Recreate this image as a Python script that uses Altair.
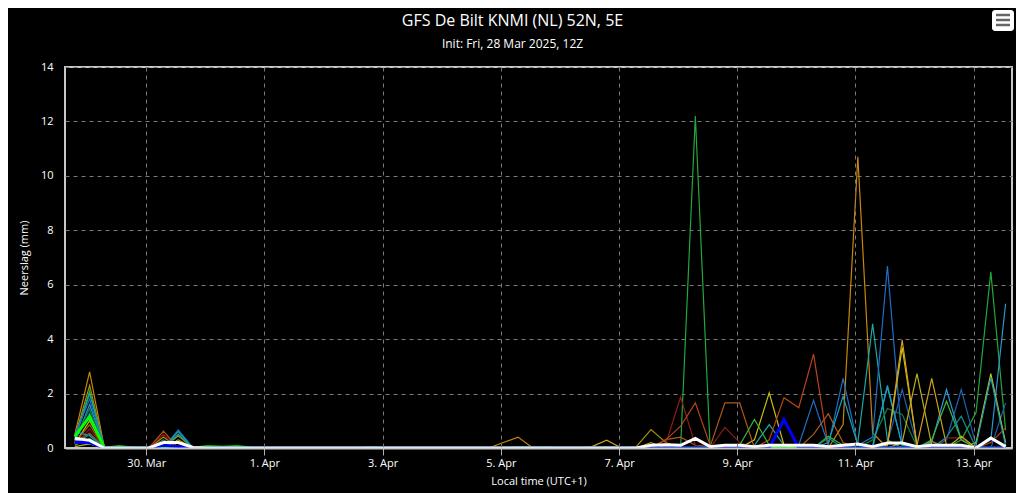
import altair as alt
import pandas as pd

# ---- time axis: GFS ensemble, 6-hourly steps, local time (UTC+1) ----
N_STEPS = 64
FIRST_STEP = "2025-03-28 19:00"

# ---- ensemble members: 6-hour precipitation (mm), only non-zero steps listed ----
m01 = {0: 0.5, 1: 2.8, 6: 0.4, 29: 0.2, 30: 0.4, 52: 0.86, 53: 10.7, 54: 0.55, 58: 0.25}
m02 = {0: 0.4, 1: 2.3, 7: 0.45, 36: 0.05, 38: 0.05, 39: 0.68, 40: 0.2}
m03 = {0: 0.35, 1: 2.1, 6: 0.3, 42: 12.2, 60: 0.3, 61: 1.3, 62: 6.47, 63: 0.65}
m04 = {0: 0.3, 1: 2.0, 7: 0.5, 31: 0.05, 46: 0.1, 47: 0.86, 48: 0.1, 53: 0.2, 54: 4.56, 55: 0.3}
m05 = {0: 0.45, 1: 1.8, 7: 0.66, 49: 0.1, 50: 1.75, 51: 0.1, 52: 2.56, 53: 0.1, 54: 0.4, 55: 6.69, 56: 0.2}
m06 = {0: 0.2, 1: 1.6, 6: 0.2, 20: 0.05, 54: 0.1, 55: 2.24, 56: 0.1, 58: 0.2, 59: 2.15, 60: 0.3, 62: 0.3, 63: 5.3}
m07 = {0: 0.3, 1: 1.45, 47: 0.1, 54: 0.3, 55: 1.45, 56: 1.23, 57: 0.05}
m08 = {0: 0.25, 1: 1.3, 55: 0.2, 56: 2.15, 57: 0.1, 59: 0.3, 60: 2.15, 61: 0.1, 63: 1.66}
m09 = {0: 0.15, 1: 1.0, 7: 0.3, 46: 0.3, 47: 2.03, 48: 0.1, 55: 0.1, 56: 3.7, 57: 0.1, 61: 0.2, 62: 2.73, 63: 0.2}
m10 = {0: 0.2, 1: 0.85, 6: 0.62, 40: 0.31, 41: 0.4, 42: 0.1, 43: 0.05, 44: 1.66, 45: 1.66, 50: 0.5, 51: 1.26, 52: 0.2}
m11 = {0: 0.1, 1: 0.7, 6: 0.5, 39: 0.1, 40: 0.15, 41: 1.87, 42: 0.1, 44: 0.76, 45: 0.2, 59: 0.37, 60: 0.37}
m12 = {0: 0.2, 1: 0.55, 40: 0.3, 41: 0.8, 42: 1.66, 43: 0.1, 47: 0.3, 48: 1.85, 49: 1.48, 50: 3.45, 51: 0.05, 62: 0.2, 63: 0.74}
m13 = {0: 0.6, 1: 0.45, 7: 0.6, 51: 0.2, 52: 1.9, 53: 0.1, 55: 2.3, 56: 0.1, 61: 0.1, 62: 2.59, 63: 0.1}
m14 = {0: 0.1, 1: 0.35, 9: 0.05, 10: 0.05, 45: 0.1, 46: 1.05, 47: 0.1, 51: 0.43, 52: 0.1, 58: 0.3, 59: 1.72, 60: 0.3}
m15 = {0: 0.25, 1: 0.25, 35: 0.05, 36: 0.29, 55: 0.1, 56: 3.97, 57: 0.1, 58: 2.56, 59: 0.1}
m16 = {0: 0.05, 1: 0.15, 39: 0.2, 56: 0.2, 57: 2.73, 58: 0.1, 60: 0.43}
m17 = {0: 0.15, 1: 0.5, 30: 0.05, 32: 0.05, 51: 0.37, 59: 0.4, 60: 1.17}

# ---- highlighted series ----
lime_run = {0: 0.43, 1: 1.15, 3: 0.05, 9: 0.05, 10: 0.03, 11: 0.05}
control_run = {0: 0.2, 1: 0.2, 6: 0.1, 7: 0.05, 48: 1.05}
ens_mean = {0: 0.36, 1: 0.28, 6: 0.2, 7: 0.2, 8: 0.02, 39: 0.1, 40: 0.12, 41: 0.1, 42: 0.35,
            43: 0.05, 44: 0.1, 45: 0.1, 46: 0.05, 47: 0.1, 48: 0.1, 49: 0.1, 50: 0.1, 51: 0.05,
            52: 0.1, 53: 0.15, 54: 0.05, 55: 0.18, 56: 0.18, 57: 0.05, 58: 0.1, 59: 0.1,
            60: 0.1, 62: 0.37, 63: 0.05}

member_names = ["m01", "m02", "m03", "m04", "m05", "m06", "m07", "m08", "m09",
                "m10", "m11", "m12", "m13", "m14", "m15", "m16", "m17"]
member_values = [m01, m02, m03, m04, m05, m06, m07, m08, m09,
                 m10, m11, m12, m13, m14, m15, m16, m17]
member_colors = ["#c8860c", "#a89000", "#22a83a", "#1ca8a0", "#1f6fc8", "#2b95d6",
                 "#14803a", "#2060b0", "#c8c010", "#b05818", "#8c1c1c", "#b8441a",
                 "#18a0b8", "#38b838", "#d0a020", "#b8b020", "#10908a"]

bold_names = ["lime", "control", "mean"]
bold_values = [lime_run, control_run, ens_mean]
bold_colors = ["#00ff00", "#0000ff", "#ffffff"]

times = pd.date_range(FIRST_STEP, periods=N_STEPS, freq="6h").strftime("%Y-%m-%dT%H:%M:%S")

rows = []
for name, vals in zip(member_names + bold_names, member_values + bold_values):
    for i, t in enumerate(times):
        rows.append({"t": t, "v": vals.get(i, 0.0), "s": name})
df = pd.DataFrame(rows)

all_names = member_names + bold_names
all_colors = member_colors + bold_colors

tick_dates = [alt.DateTime(year=2025, month=3, date=30)] + [
    alt.DateTime(year=2025, month=4, date=d) for d in [1, 3, 5, 7, 9, 11, 13]
]

x_enc = alt.X(
    "t:T",
    scale=alt.Scale(domain=[alt.DateTime(year=2025, month=3, date=28, hours=15),
                            alt.DateTime(year=2025, month=4, date=13, hours=15, minutes=36)]),
    axis=alt.Axis(values=tick_dates, format="%-d. %b", title="Local time (UTC+1)",
                  ticks=True, tickColor="#b0b0b0", tickSize=7, labelPadding=2,
                  domain=True, domainColor="#c8c8c8", domainWidth=2, titlePadding=7,
                  zindex=1),
)
y_enc = alt.Y(
    "v:Q",
    scale=alt.Scale(domain=[0, 14], nice=False),
    axis=alt.Axis(values=list(range(0, 15, 2)), title="Neerslag (mm)", ticks=False,
                  domain=False, labelPadding=12, titlePadding=11),
)
color_enc = alt.Color("s:N", scale=alt.Scale(domain=all_names, range=all_colors), legend=None)

base = alt.Chart(df)
members = base.transform_filter(alt.FieldOneOfPredicate(field="s", oneOf=member_names)).mark_line(
    strokeWidth=1.2, clip=True).encode(x=x_enc, y=y_enc, color=color_enc)
lime = base.transform_filter(alt.datum.s == "lime").mark_line(strokeWidth=3, clip=True).encode(
    x=x_enc, y=y_enc, color=color_enc)
control = base.transform_filter(alt.datum.s == "control").mark_line(strokeWidth=3, clip=True).encode(
    x=x_enc, y=y_enc, color=color_enc)
mean = base.transform_filter(alt.datum.s == "mean").mark_line(strokeWidth=3, clip=True).encode(
    x=x_enc, y=y_enc, color=color_enc)

# export-menu icon (decoration)
icon_box = alt.Chart(pd.DataFrame({"a": [0]})).mark_rect(
    color="#ffffff", cornerRadius=3).encode(
    x=alt.value(927), x2=alt.value(949), y=alt.value(-57), y2=alt.value(-36))
bars = []
for yy in [-52, -47, -42]:
    bars.append(alt.Chart(pd.DataFrame({"a": [0]})).mark_rule(
        color="#666666", strokeWidth=2.5).encode(
        x=alt.value(931), x2=alt.value(945), y=alt.value(yy)))

chart = alt.layer(members, lime, control, mean, icon_box, *bars).properties(
    width=947, height=381,
    autosize=alt.AutoSizeParams(type="none"),
    padding={"left": 57, "top": 59, "right": 4, "bottom": 45},
    title=alt.TitleParams(
        text="GFS De Bilt KNMI (NL) 52N, 5E",
        subtitle="Init: Fri, 28 Mar 2025, 12Z",
        color="#ffffff", subtitleColor="#ffffff",
        font="Open Sans", subtitleFont="Open Sans",
        fontSize=16, subtitleFontSize=12, fontWeight="normal",
        subtitlePadding=10, offset=-40, anchor="middle", frame="group", dx=-26,
    ),
).configure(background="#000000").configure_view(
    stroke="#c8c8c8", strokeWidth=2
).configure_axis(
    labelColor="#ffffff", titleColor="#ffffff",
    labelFont="Open Sans", titleFont="Open Sans",
    labelFontSize=11, titleFontSize=11, titleFontWeight="normal",
    gridColor="#7a7a7a", gridDash=[4, 4], gridWidth=1,
)

chart.save("out.html", embed_options={"renderer": "svg", "actions": False})
